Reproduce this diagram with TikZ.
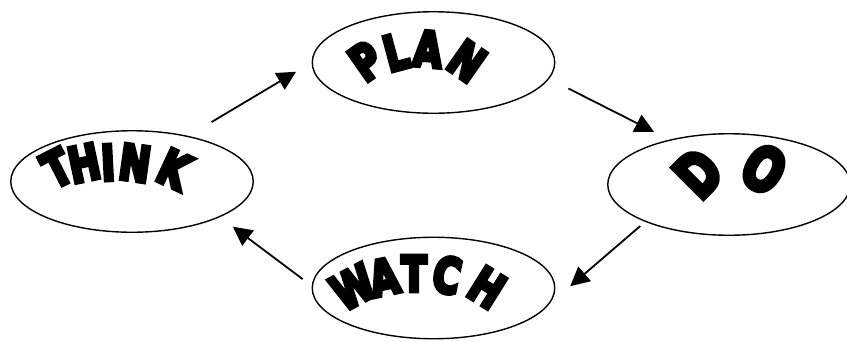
\documentclass[tikz,border=0pt]{standalone}
\usepackage{fontspec}
\usepackage{graphicx}
\newfontface\artfont[FakeBold=9]{DejaVu Sans Bold}
\usetikzlibrary{shapes.geometric,arrows.meta}
\newcommand{\artglyph}[1]{\scalebox{0.84}[1.1]{#1}}
\begin{document}
\begin{tikzpicture}[x=1pt,y=-1pt,
  bubble/.style={draw, ellipse, line width=1.4pt, minimum width=242.5pt, minimum height=101.5pt, inner sep=0pt},
  letter/.style={font=\artfont\fontsize{44}{44}\selectfont, inner sep=0pt, anchor=center},
  bigletter/.style={font=\artfont\fontsize{54}{54}\selectfont, inner sep=0pt, anchor=center},
  flow/.style={line width=1.8pt, -{Triangle[length=19pt,width=19pt]}}]
\fill[white] (0,0) rectangle (847,341);
\useasboundingbox (0,0) rectangle (847,341);

\node[bubble] (plan)  at (433.5,62.5) {};
\node[bubble] (think) at (132,181.5) {};
\node[bubble] (do)    at (729,184.5) {};
\node[bubble] (watch) at (433.5,288) {};

% PLAN
\foreach \n/\c/\x/\y/\r in {p1/P/366/61/35, p2/L/396/52/15, p3/A/428/49/-5, p4/N/467/61/-35}
  \node[letter, rotate=\r] (\n) at (\x,\y) {\artglyph{\c}};
% THINK
\foreach \n/\c/\x/\y/\r in {t1/T/57/168/27, t2/H/84/163/12, t3/I/108/162.5/3, t4/N/135/163/-8, t5/K/174/169/-25}
  \node[letter, rotate=\r] (\n) at (\x,\y) {\artglyph{\c}};
% DO
\foreach \n/\c/\x/\y/\r in {d1/D/698/173/45, d2/O/764/169/-30}
  \node[bigletter, rotate=\r] (\n) at (\x,\y) {\artglyph{\c}};
% WATCH
\foreach \n/\c/\x/\y/\r in {w1/W/353/287/28, w2/A/384/277/12, w3/T/414/273.5/0, w4/C/447/275/-12, w5/H/487/287.5/-32}
  \node[letter, rotate=\r] (\n) at (\x,\y) {\artglyph{\c}};

\draw[flow, shorten <=27pt, shorten >=18pt] (think.39.7) -- (plan.180.6);
\draw[flow, shorten <=21.6pt, shorten >=17.2pt] (plan.352.5) -- (do.143.3);
\draw[flow, shorten <=6.5pt, shorten >=27.7pt] (do.204) -- (watch.352);
\draw[flow, shorten <=11.3pt, shorten >=16pt] (watch.179) -- (think.338.3);
\end{tikzpicture}
\end{document}
